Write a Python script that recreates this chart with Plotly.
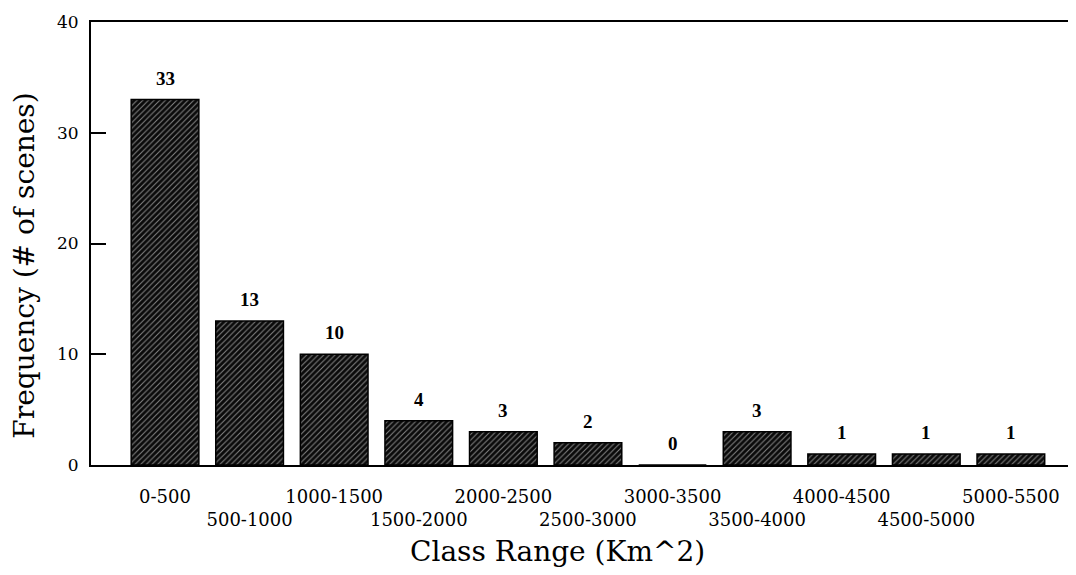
import plotly.graph_objects as go

categories = ["0-500", "500-1000", "1000-1500", "1500-2000", "2000-2500", "2500-3000",
              "3000-3500", "3500-4000", "4000-4500", "4500-5000", "5000-5500"]
frequency = [33, 13, 10, 4, 3, 2, 0, 3, 1, 1, 1]
y_ticks = [0, 10, 20, 30, 40]
x_title = "Class Range (Km^2)"
y_title = "Frequency (# of scenes)"

# staggered tick labels: odd ones dropped one line
tick_text = [c if i % 2 == 0 else "<br>" + c for i, c in enumerate(categories)]

SERIF = "Liberation Serif, Times New Roman, serif"
WIDE = "DejaVu Serif, serif"

fig = go.Figure()
fig.add_trace(go.Bar(
    x=categories,
    y=frequency,
    width=0.8,
    marker=dict(
        color="#111111",
        line=dict(color="#000000", width=1.5),
        pattern=dict(shape="/", fgcolor="white", bgcolor="#0a0a0a",
                     size=4, solidity=0.25, fillmode="overlay"),
    ),
    showlegend=False,
))

for c, v in zip(categories, frequency):
    fig.add_annotation(x=c, y=v, text="<b>%d</b>" % v, showarrow=False,
                       yanchor="bottom", yshift=9,
                       font=dict(family=SERIF, size=19, color="black"))

# axis titles as annotations for precise placement
fig.add_annotation(text=x_title, xref="paper", yref="paper", x=0.474, y=0,
                   xanchor="center", yanchor="middle", yshift=-86, showarrow=False,
                   font=dict(family=WIDE, size=28, color="black"))
fig.add_annotation(text=y_title, xref="paper", yref="paper", x=0, y=0.45,
                   xanchor="center", yanchor="middle", xshift=-66, textangle=-90,
                   showarrow=False, font=dict(family=WIDE, size=28, color="black"))

fig.update_layout(
    width=1068, height=567,
    margin=dict(l=83, r=0, t=14, b=110, autoexpand=False),
    paper_bgcolor="white", plot_bgcolor="white",
    font=dict(family=WIDE, color="black"),
)
fig.update_xaxes(
    type="category",
    range=[-0.875, 10.77],
    tickmode="array", tickvals=categories, ticktext=tick_text,
    tickfont=dict(family=WIDE, size=18),
    tickangle=0,
    ticks="", ticklabelstandoff=14,
    showline=True, linecolor="black", linewidth=2,
    mirror=True, showgrid=False, automargin=False,
)
fig.update_yaxes(
    range=[0, 40],
    tickmode="array", tickvals=y_ticks,
    tickfont=dict(family=WIDE, size=17),
    ticks="inside", ticklen=15, tickwidth=2, tickcolor="black",
    ticklabelstandoff=7,
    showline=True, linecolor="black", linewidth=2, mirror=False,
    showgrid=False, zeroline=False, automargin=False,
)

fig.write_html("out.html")
